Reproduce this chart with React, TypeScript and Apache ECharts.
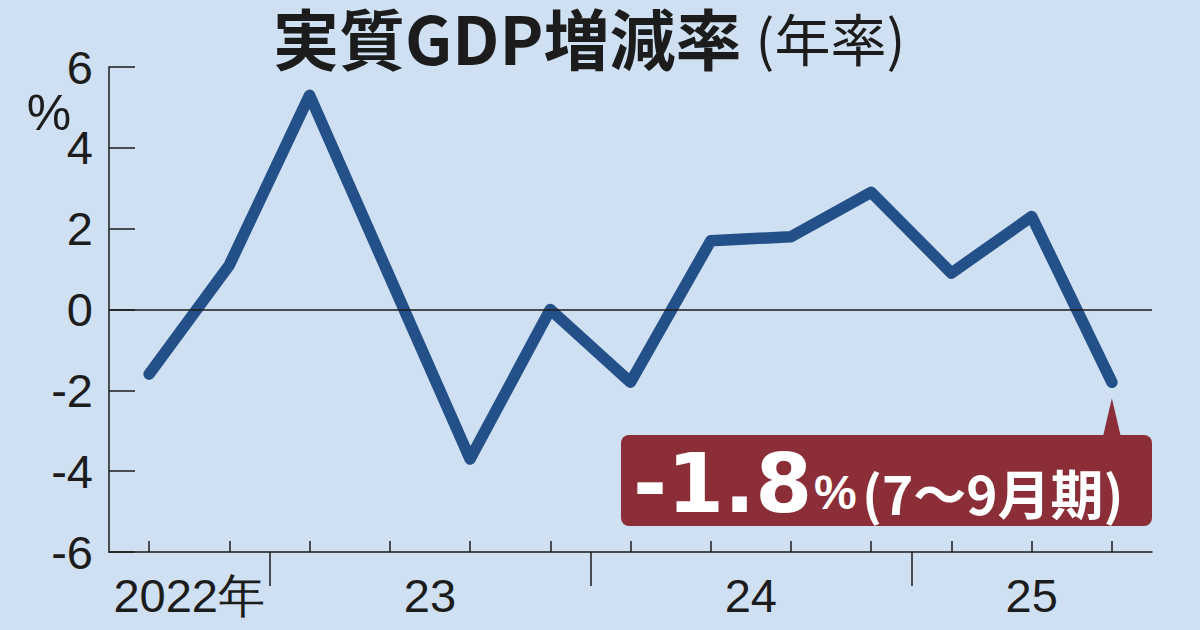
import React, { useEffect, useRef } from "react";
import * as echarts from "echarts";

const quarters = [
  "2022年7-9月", "2022年10-12月",
  "2023年1-3月", "2023年4-6月", "2023年7-9月", "2023年10-12月",
  "2024年1-3月", "2024年4-6月", "2024年7-9月", "2024年10-12月",
  "2025年1-3月", "2025年4-6月", "2025年7-9月",
];
const quarterYears = [2022, 2022, 2023, 2023, 2023, 2023, 2024, 2024, 2024, 2024, 2025, 2025, 2025];
const growth = [-1.6, 1.1, 5.3, 0.8, -3.7, 0.0, -1.8, 1.7, 1.8, 2.9, 0.9, 2.3, -1.8];
const yearValues = [2022, 2023, 2024, 2025];
const yearLabels = ["2022年", "23", "24", "25"];
const yTicks = [-6, -4, -2, 0, 2, 4, 6];

const titleMain = "実質GDP増減率";
const titleSub = "(年率)";
const unitLabel = "%";
const calloutValue = "-1.8";
const calloutUnit = "%";
const calloutPeriod = "(7～9月期)";

const SANS = "'Liberation Sans', Arial, sans-serif";
const CJK = "'Noto Sans CJK JP', 'Noto Sans', sans-serif";
const BG = "#CFE0F2";
const LINE = "#245089";
const RED = "#8B2E37";
const INK = "#1c1c1c";

export default function App() {
  const ref = useRef<HTMLDivElement>(null);

  useEffect(() => {
    const el = ref.current!;
    const chart = echarts.init(el, null, { renderer: "svg" });

    const boundaryIdx = quarterYears
      .map((y, i) => (i > 0 && y !== quarterYears[i - 1] ? i : -1))
      .filter((i) => i >= 0);
    const labelPos = yearValues.map((y) => {
      const idx = quarterYears.map((q, i) => (q === y ? i : -1)).filter((i) => i >= 0);
      return idx.reduce((a, b) => a + b, 0) / idx.length + 0.5;
    });
    const labelText = (v: number) => {
      let best = 0;
      labelPos.forEach((p, i) => {
        if (Math.abs(p - v) < Math.abs(labelPos[best] - v)) best = i;
      });
      return yearLabels[best];
    };

    const option: any = {
      animation: false,
      backgroundColor: BG,
      title: {
        left: 273,
        top: 4,
        padding: 0,
        text: `{a|${titleMain}}{b|${titleSub}}`,
        textStyle: {
          rich: {
            a: { fontSize: 66, fontWeight: "bold", fontFamily: CJK, color: INK, lineHeight: 64, verticalAlign: "middle" },
            b: { fontSize: 56, fontWeight: "normal", fontFamily: CJK, color: INK, lineHeight: 64, verticalAlign: "middle", padding: [0, 0, 0, 14] },
          },
        },
      },
      grid: { left: 109, right: 48, top: 67, bottom: 78, containLabel: false },
      xAxis: [
        {
          type: "category",
          data: quarters,
          boundaryGap: true,
          position: "bottom",
          axisLine: { show: true, onZero: false, lineStyle: { color: INK, width: 1.5 } },
          axisTick: { show: true, inside: true, length: 11, alignWithLabel: true, interval: 0, lineStyle: { color: INK, width: 1.5 } },
          axisLabel: { show: false },
          splitLine: { show: false },
        },
        {
          type: "value",
          min: 0,
          max: quarters.length,
          position: "bottom",
          axisLine: { show: false, onZero: false },
          axisTick: { show: true, inside: false, length: 34, customValues: boundaryIdx, lineStyle: { color: INK, width: 1.5 } },
          axisLabel: {
            show: true,
            customValues: labelPos,
            formatter: (v: number) => labelText(v),
            fontSize: 47,
            fontFamily: SANS,
            color: INK,
            margin: 20,
          },
          splitLine: { show: false },
        },
      ],
      yAxis: {
        type: "value",
        min: yTicks[0],
        max: yTicks[yTicks.length - 1],
        interval: yTicks[1] - yTicks[0],
        axisLine: { show: true, lineStyle: { color: INK, width: 1.5 } },
        axisTick: { show: true, inside: true, length: 26, lineStyle: { color: INK, width: 1.5 } },
        axisLabel: { fontSize: 47, fontFamily: SANS, color: INK, margin: 16 },
        splitLine: { show: false },
      },
      series: [
        {
          type: "line",
          data: growth,
          xAxisIndex: 0,
          yAxisIndex: 0,
          symbol: "none",
          lineStyle: { color: LINE, width: 11.5, cap: "round", join: "round" },
          markLine: {
            silent: true,
            symbol: ["none", "none"],
            label: { show: false },
            lineStyle: { color: INK, width: 1.5, type: "solid" },
            data: [{ yAxis: 0 }],
          },
          z: 3,
        },
      ],
    };
    chart.setOption(option);

    const last = growth.length - 1;
    const pt = chart.convertToPixel({ seriesIndex: 0 }, [last, growth[last]]) as number[];
    const rightX = chart.convertToPixel({ xAxisIndex: 1 }, quarters.length) as number;
    const boxLeft = 621;
    const boxTop = 435;
    const boxH = 91;

    chart.setOption({
      graphic: [
        {
          type: "text",
          x: 49,
          y: 113,
          style: { text: unitLabel, fill: INK, fontSize: 50, fontFamily: SANS, align: "center", verticalAlign: "middle" },
        },
        {
          type: "rect",
          shape: { x: boxLeft, y: boxTop, width: rightX - boxLeft, height: boxH, r: 8 },
          style: { fill: RED },
          z: 10,
        },
        {
          type: "polygon",
          shape: { points: [[pt[0] - 9, boxTop + 2], [pt[0] + 9, boxTop + 2], [pt[0], pt[1] + 16]] },
          style: { fill: RED },
          z: 10,
        },
        {
          type: "text",
          x: 633,
          y: 483,
          z: 11,
          style: { text: calloutValue, fill: "#ffffff", fontSize: 82, fontWeight: "bold", fontFamily: "'DejaVu Sans', sans-serif", align: "left", verticalAlign: "middle" },
        },
        {
          type: "text",
          x: 814,
          y: 492,
          z: 11,
          style: { text: calloutUnit, fill: "#ffffff", fontSize: 48, fontWeight: "bold", fontFamily: SANS, align: "left", verticalAlign: "middle" },
        },
        {
          type: "text",
          x: 862,
          y: 492,
          z: 11,
          style: { text: calloutPeriod, fill: "#ffffff", fontSize: 53, fontWeight: "bold", fontFamily: CJK, align: "left", verticalAlign: "middle" },
        },
      ],
    });

    return () => chart.dispose();
  }, []);

  return <div ref={ref} style={{ position: "fixed", left: 0, top: 0, width: 1200, height: 630 }} />;
}
